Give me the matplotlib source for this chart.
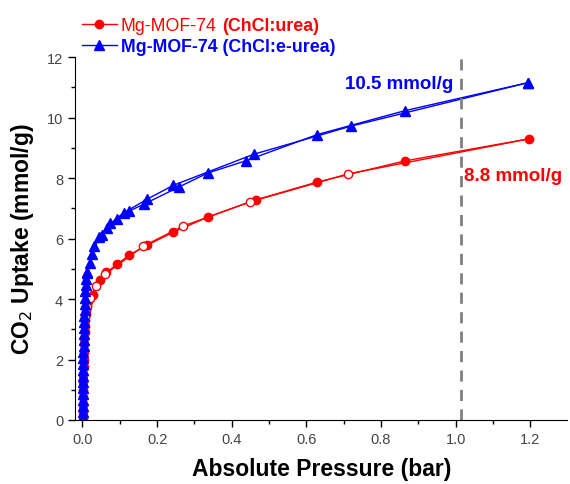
import matplotlib
matplotlib.use("Agg")
import matplotlib.pyplot as plt
from matplotlib.lines import Line2D

plt.rcParams['font.family'] = ['Liberation Sans', 'DejaVu Sans']

# Mg-MOF-74 (ChCl:urea) - adsorption (filled) / desorption (open)
red_ads_p = [0.0003, 0.0006, 0.0010, 0.0014, 0.0018, 0.0022, 0.0026, 0.0030, 0.0035,
             0.0040, 0.0046, 0.0053, 0.0060, 0.0068, 0.0077, 0.0088, 0.010, 0.012,
             0.015, 0.019, 0.027, 0.048, 0.064, 0.093, 0.125, 0.173, 0.243, 0.336,
             0.464, 0.629, 0.864, 1.197]
red_ads_u = [0.05, 0.25, 0.50, 0.75, 1.00, 1.25, 1.50, 1.75, 2.00,
             2.25, 2.50, 2.70, 2.90, 3.10, 3.30, 3.50, 3.65, 3.80,
             3.95, 4.05, 4.15, 4.62, 4.88, 5.15, 5.45, 5.78, 6.21, 6.71,
             7.28, 7.87, 8.57, 9.30]
red_des_p = [0.712, 0.448, 0.269, 0.163, 0.061, 0.037, 0.020, 0.012, 0.008]
red_des_u = [8.14, 7.21, 6.41, 5.75, 4.82, 4.42, 4.05, 3.75, 3.40]

# Mg-MOF-74 (ChCl:e-urea)
blue_ads_p = [0.0002, 0.0004, 0.0006, 0.0008, 0.0010, 0.0012, 0.0014, 0.0016, 0.0018,
              0.0020, 0.0023, 0.0026, 0.0029, 0.0032, 0.0036, 0.0040, 0.0045, 0.0050,
              0.0056, 0.0063, 0.0070, 0.0080, 0.0090, 0.0105, 0.013, 0.021, 0.032,
              0.053, 0.067, 0.093, 0.125, 0.165, 0.259, 0.336, 0.437, 0.629, 0.864, 1.195]
blue_ads_u = [0.05, 0.25, 0.45, 0.65, 0.85, 1.05, 1.25, 1.45, 1.65,
              1.85, 2.05, 2.25, 2.45, 2.65, 2.85, 3.05, 3.25, 3.45,
              3.65, 3.85, 4.05, 4.25, 4.45, 4.65, 4.85, 5.18, 5.75,
              6.11, 6.35, 6.64, 6.91, 7.14, 7.71, 8.17, 8.57, 9.44, 10.23, 11.16]
blue_des_p = [0.72, 0.459, 0.243, 0.173, 0.110, 0.075, 0.045, 0.025, 0.012]
blue_des_u = [9.72, 8.79, 7.76, 7.30, 6.85, 6.50, 6.05, 5.50, 4.90]

red = '#ff0000'
blue = '#0000ff'

fig = plt.figure(figsize=(5.7, 4.85), dpi=100)
ax = fig.add_axes([0.1316, 0.132, 0.864, 0.748])

ax.plot(red_ads_p, red_ads_u, '-o', color=red, lw=1, ms=6, mfc=red, mec=red)
ax.plot([red_ads_p[-1]] + red_des_p, [red_ads_u[-1]] + red_des_u, '-', color=red, lw=1)
ax.plot(red_des_p, red_des_u, 'o', ls='none', ms=6, mfc='white', mec=red, mew=1)

ax.plot(blue_ads_p, blue_ads_u, '-^', color=blue, lw=1, ms=6.5)
ax.plot([blue_ads_p[-1]] + blue_des_p, [blue_ads_u[-1]] + blue_des_u, '-^',
        color=blue, lw=1, ms=6.5)

ax.axvline(1.015, color='#808080', lw=2, ls=(0, (4, 3)))

ax.text(0.995, 11.13, '10.5 mmol/g', color=blue, fontsize=13.5, fontweight='bold',
        ha='right', va='center')
ax.text(1.023, 8.1, '8.8 mmol/g', color=red, fontsize=13.5, fontweight='bold',
        ha='left', va='center')

ax.set_xlim(-0.02, 1.3)
ax.set_ylim(0, 12)
ax.set_xticks([0.0, 0.2, 0.4, 0.6, 0.8, 1.0, 1.2])
ax.set_xticks([0.1, 0.3, 0.5, 0.7, 0.9, 1.1], minor=True)
ax.set_yticks([0, 2, 4, 6, 8, 10, 12])
ax.set_yticks([1, 3, 5, 7, 9, 11], minor=True)
ax.set_xticklabels(['0.0', '0.2', '0.4', '0.6', '0.8', '1.0', '1.2'])
ax.tick_params(which='major', direction='out', length=5, width=1, labelsize=10.5,
               labelcolor='#444444')
ax.tick_params(which='minor', direction='out', length=3, width=1)
for s in ['top', 'right']:
    ax.spines[s].set_visible(False)

ax.set_xlabel('Absolute Pressure (bar)', fontsize=16.5, fontweight='bold', labelpad=8)
ax.set_ylabel('CO$_2$ Uptake (mmol/g)', fontsize=16.5, fontweight='bold', labelpad=8)

handles = [Line2D([], [], color=red, marker='o', lw=1, ms=6),
           Line2D([], [], color=blue, marker='^', lw=1, ms=6.5)]
leg = fig.legend(handles, ['Mg-MOF-74', 'Mg-MOF-74 (ChCl:e-urea)'],
                 loc='upper left', bbox_to_anchor=(0.115, 0.995), frameon=False,
                 fontsize=12.8, handlelength=2.0, handletextpad=0.2, labelspacing=0.2)
txts = leg.get_texts()
txts[0].set_color(red)
txts[1].set_color(blue)
txts[1].set_fontweight('bold')

fig.canvas.draw()
bb = txts[0].get_window_extent().transformed(fig.transFigure.inverted())
fig.text(bb.x1 + 0.01, (bb.y0 + bb.y1) / 2, '(ChCl:urea)', color=red, fontsize=12.8,
         fontweight='bold', ha='left', va='center')

fig.savefig('out.png', dpi=100)
